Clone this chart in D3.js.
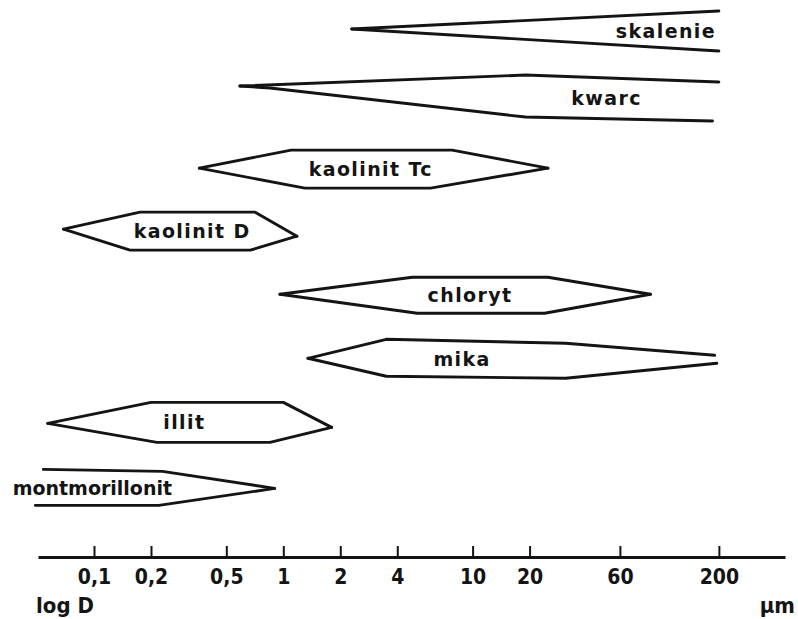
<!DOCTYPE html>
<html>
<head>
<meta charset="utf-8">
<script src="https://cdn.jsdelivr.net/npm/d3@7"></script>
<style>
  body { margin: 0; background: #fff; }
  svg { display: block; }
  .band { fill: none; stroke: #141414; stroke-width: 2.9; stroke-linejoin: round; stroke-linecap: round; }
  .name { font-family: "DejaVu Sans", sans-serif; font-weight: bold; font-size: 19px; letter-spacing: 1.4px; fill: #141414; }
  .axis path { stroke: #141414; stroke-width: 3; }
  .axis line { stroke: #141414; stroke-width: 2; }
  .axis text { font-family: "Liberation Sans Narrow", "DejaVu Sans Condensed", sans-serif; font-weight: bold; font-size: 21px; fill: #141414; }
  .unit { font-family: "DejaVu Sans Condensed", "DejaVu Sans", sans-serif; font-weight: bold; font-size: 22px; fill: #141414; }
</style>
</head>
<body>
<svg id="chart" width="798" height="619"></svg>
<script>
// minerals, top to bottom
const minerals = ["skalenie", "kwarc", "kaolinit Tc", "kaolinit D", "chloryt", "mika", "illit", "montmorillonit"];

// upper outline of each band: grain size (µm) and height above the row line
const upperSize = [[2.3, 200], [0.59, 19, 200], [0.36, 1.1, 7.8, 25], [0.069, 0.175, 0.71, 1.18],
  [0.96, 4.8, 25, 87], [1.35, 3.5, 31, 190], [0.057, 0.2, 1.0, 1.8], [0.054, 0.23, 0.9]];
const upperEdge = [[0.5, 2.3], [1.3, 2.4, 1.7], [-0.4, 1.4, 1.4, -0.4], [0, 1.7, 1.7, -0.7],
  [0, 1.7, 1.7, 0], [0.1, 2.0, 1.6, 0.4], [0.1, 2.2, 2.2, -0.3], [2.0, 1.8, 0.1]];

// lower outline
const lowerSize = [[2.3, 200], [0.59, 0.85, 19, 185], [0.36, 1.3, 6.0, 25], [0.069, 0.155, 0.67, 1.18],
  [0.96, 5.1, 24, 87], [1.35, 3.5, 31, 195], [0.057, 0.215, 0.85, 1.8], [0.049, 0.22, 0.9]];
const lowerEdge = [[0.5, -1.7], [1.3, 1.1, -1.8, -2.2], [-0.4, -2.4, -2.4, -0.4], [0, -2.1, -2.1, -0.7],
  [0, -1.9, -1.9, 0], [0.1, -1.7, -1.9, -0.4], [0.1, -1.8, -1.8, -0.3], [-1.6, -1.6, 0.1]];

// where the name sits (µm)
const labelSize = [105, 51, 2.9, 0.33, 9.7, 8.8, 0.3, 0.098];

const tickValues = [0.1, 0.2, 0.5, 1, 2, 4, 10, 20, 60, 200];

const svg = d3.select("#chart");

const x = d3.scaleLog().domain([0.0506, 447]).range([38, 785]);
const row = d3.scalePoint().domain(minerals).range([34, 489.4]);
const h = d3.scaleLinear().domain([0, 1]).range([0, -10]);

const line = d3.line().x(d => d[0]).y(d => d[1]);

// y of an outline at pixel position px
function yAt(pts, px) {
  for (let i = 1; i < pts.length; i++) {
    if (px <= pts[i][0]) {
      const t = (px - pts[i - 1][0]) / (pts[i][0] - pts[i - 1][0]);
      return pts[i - 1][1] + t * (pts[i][1] - pts[i - 1][1]);
    }
  }
  return pts[pts.length - 1][1];
}

minerals.forEach((m, i) => {
  const y0 = row(m);
  const up = upperSize[i].map((d, j) => [x(d), y0 + h(upperEdge[i][j])]);
  const lo = lowerSize[i].map((d, j) => [x(d), y0 + h(lowerEdge[i][j])]);

  svg.append("path").attr("class", "band").attr("d", line(up));
  svg.append("path").attr("class", "band").attr("d", line(lo));

  const lx = x(labelSize[i]);
  svg.append("text")
    .attr("class", "name")
    .attr("x", lx)
    .attr("y", (yAt(up, lx) + yAt(lo, lx)) / 2)
    .attr("text-anchor", "middle")
    .attr("dominant-baseline", "central")
    .style("letter-spacing", m.length > 12 ? "0px" : null) // long name is set tighter
    .text(m);
});

// axis
svg.append("g")
  .attr("class", "axis")
  .attr("transform", "translate(0,557)")
  .call(d3.axisBottom(x)
    .tickValues(tickValues)
    .tickSizeInner(-11)
    .tickSizeOuter(0)
    .tickPadding(12)
    .tickFormat(d => String(d).replace(".", ",")));

svg.append("text").attr("class", "unit").attr("x", 36).attr("y", 613).text("log D");
svg.append("text").attr("class", "unit").attr("x", 795).attr("y", 613).attr("text-anchor", "end").text("µm");
</script>
</body>
</html>
